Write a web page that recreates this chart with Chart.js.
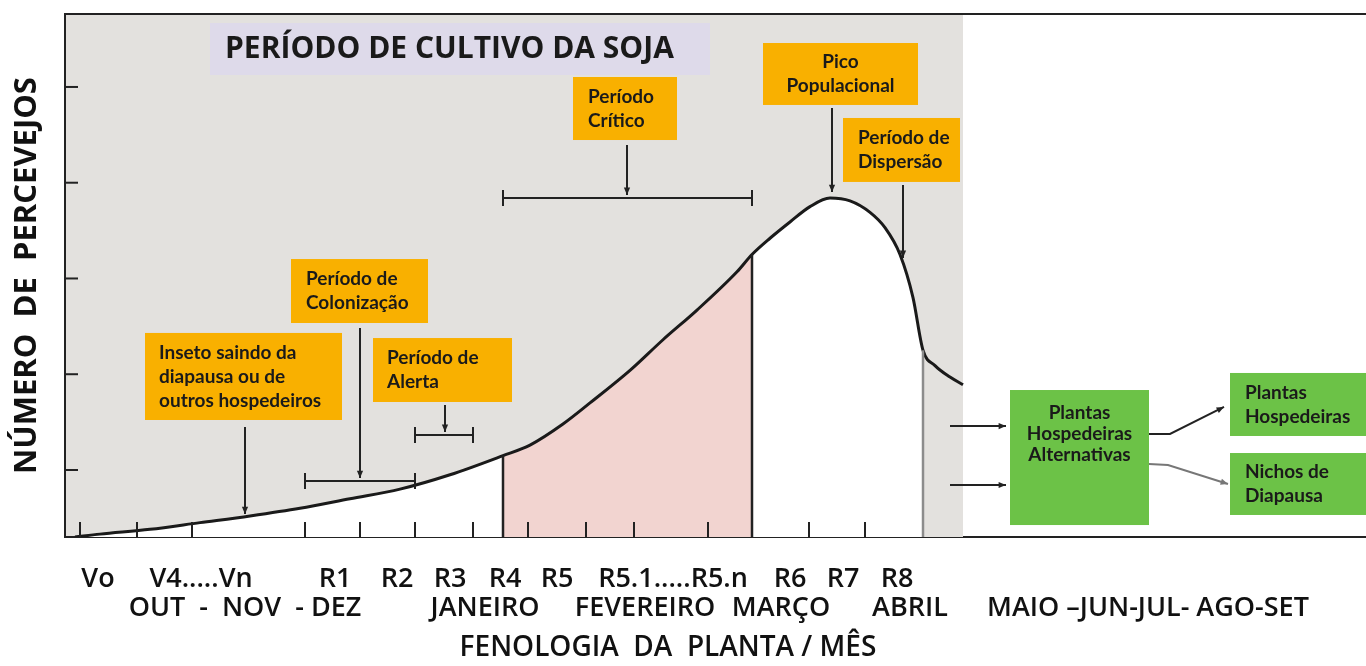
<!DOCTYPE html>
<html lang="pt">
<head>
<meta charset="UTF-8">
<title>Percevejos na soja</title>
<script src="https://cdn.jsdelivr.net/npm/chart.js"></script>
<style>
  html, body { margin: 0; padding: 0; background: #fff; }
  #wrap { width: 1366px; height: 666px; }
</style>
</head>
<body>
<div id="wrap"><canvas id="chart" width="1366" height="666"></canvas></div>
<script>
// population curve (x: time units along the season, y: relative number of bugs)
const curveX = [1.0, 3.5, 8.5, 13.5, 18.5, 23.5, 28.5, 33.5, 38.5, 43.8, 46.5, 49.8, 52.5, 56.5, 59.8, 63.2, 67.2, 68.7, 70.5, 72.5, 74.5, 76.5, 78.5, 80.5, 82.0, 83.5, 84.8, 85.8, 87.0, 88.5, 89.8];
const curveY = [0.30, 0.33, 0.38, 0.45, 0.52, 0.60, 0.70, 0.80, 0.95, 1.15, 1.26, 1.48, 1.70, 2.04, 2.36, 2.67, 3.07, 3.25, 3.42, 3.59, 3.75, 3.84, 3.81, 3.69, 3.53, 3.25, 2.80, 2.25, 2.09, 1.97, 1.89];

// phenology stages and months under the axis
const stageLabels = ['Vo', 'V4.....Vn', 'R1', 'R2', 'R3', 'R4', 'R5', 'R5.1.....R5.n', 'R6', 'R7', 'R8'];
const stagePos = [3.3, 13.6, 27.0, 33.2, 38.5, 44.0, 49.2, 60.8, 72.5, 77.8, 83.2];
const monthLabels = ['OUT  -  NOV  - DEZ', 'JANEIRO', 'FEVEREIRO', 'MARÇO', 'ABRIL', 'MAIO –JUN-JUL- AGO-SET'];
const monthPos = [18.0, 42.0, 58.0, 71.6, 84.5, 108.3];

// small tick marks inside the frame
const xTickPos = [1.5, 7.2, 12.7, 24.0, 29.5, 35.0, 40.8, 46.3, 52.1, 56.9, 64.3, 74.4, 80.0];
const yTickVals = [1, 2, 3, 4, 5];

// season limits
const criticalStart = 43.8;   // R4
const criticalEnd = 68.7;     // R6
const harvest = 85.8;         // R8
const seasonEnd = 89.8;

const ORANGE = '#f9b000';
const GREEN = '#6cc247';

// annotation boxes (data units)
const boxes = [
  { x1: 14.5, x2: 64.5, y1: 5.668, y2: 5.125, fill: '#dedaea', lines: ['PERÍODO DE CULTIVO DA SOJA'], font: 'bold 30px "Open Sans"', align: 'left', pad: 15 },
  { x1: 50.8, x2: 61.2, y1: 5.104, y2: 4.446, fill: ORANGE, lines: ['Período', 'Crítico'], align: 'left', pad: 15 },
  { x1: 69.8, x2: 85.3, y1: 5.459, y2: 4.812, fill: ORANGE, lines: ['Pico', 'Populacional'], align: 'center' },
  { x1: 77.8, x2: 89.5, y1: 4.676, y2: 4.008, fill: ORANGE, lines: ['Período de', 'Dispersão'], align: 'left', pad: 15 },
  { x1: 22.6, x2: 36.3, y1: 3.203, y2: 2.535, fill: ORANGE, lines: ['Período de', 'Colonização'], align: 'left', pad: 15 },
  { x1: 30.8, x2: 44.7, y1: 2.378, y2: 1.710, fill: ORANGE, lines: ['Período de', 'Alerta'], align: 'left', pad: 14 },
  { x1: 8.0, x2: 27.7, y1: 2.431, y2: 1.522, fill: ORANGE, lines: ['Inseto saindo da', 'diapausa ou de', 'outros hospedeiros'], align: 'left', pad: 14 },
  { x1: 94.5, x2: 108.4, y1: 1.835, y2: 0.425, fill: GREEN, lines: ['Plantas', 'Hospedeiras', 'Alternativas'], align: 'center', top: true, lh: 21 },
  { x1: 116.5, x2: 130.1, y1: 2.013, y2: 1.355, fill: GREEN, lines: ['Plantas', 'Hospedeiras'], align: 'left', pad: 15 },
  { x1: 116.5, x2: 130.1, y1: 1.177, y2: 0.530, fill: GREEN, lines: ['Nichos de', 'Diapausa'], align: 'left', pad: 15 }
];

const arrows = [
  { pts: [[56.2, 4.394], [56.2, 3.872]] },
  { pts: [[76.7, 4.780], [76.7, 3.903]] },
  { pts: [[83.8, 3.976], [83.8, 3.214]] },
  { pts: [[29.5, 2.483], [29.5, 0.916]] },
  { pts: [[38.0, 1.679], [38.0, 1.397]] },
  { pts: [[18.0, 1.449], [18.0, 0.540]] },
  { pts: [[88.5, 1.459], [94.1, 1.459]] },
  { pts: [[88.5, 0.843], [94.1, 0.843]] },
  { pts: [[108.4, 1.376], [110.5, 1.376], [115.9, 1.658]] },
  { pts: [[108.4, 1.062], [110.3, 1.052], [116.3, 0.854]], color: '#777' }
];

const brackets = [
  { x1: criticalStart, x2: criticalEnd, y: 3.840 },
  { x1: 24.0, x2: 35.0, y: 0.885 },
  { x1: 35.0, x2: 40.8, y: 1.365 }
];

const dividers = [
  { x: criticalStart, color: '#222' },
  { x: criticalEnd, color: '#222' },
  { x: harvest, color: '#8c8c8c' }
];

function drawArrow(ctx, pts, color) {
  ctx.strokeStyle = color;
  ctx.fillStyle = color;
  ctx.lineWidth = 2;
  ctx.beginPath();
  ctx.moveTo(pts[0][0], pts[0][1]);
  for (let i = 1; i < pts.length; i++) ctx.lineTo(pts[i][0], pts[i][1]);
  ctx.stroke();
  const [ax, ay] = pts[pts.length - 2];
  const [bx, by] = pts[pts.length - 1];
  const ang = Math.atan2(by - ay, bx - ax);
  const s = 8;
  ctx.beginPath();
  ctx.moveTo(bx, by);
  ctx.lineTo(bx - s * Math.cos(ang - 0.4), by - s * Math.sin(ang - 0.4));
  ctx.lineTo(bx - s * Math.cos(ang + 0.4), by - s * Math.sin(ang + 0.4));
  ctx.closePath();
  ctx.fill();
}

const decor = {
  id: 'decor',
  beforeDraw(chart) {
    const { ctx, chartArea: a, scales: { x } } = chart;
    ctx.save();
    ctx.fillStyle = '#e3e1de';
    ctx.fillRect(a.left, a.top, x.getPixelForValue(seasonEnd) - a.left, a.bottom - a.top);
    ctx.restore();
  },
  afterDatasetsDraw(chart) {
    const { ctx, chartArea: a, scales: { x, y } } = chart;
    const meta = chart.getDatasetMeta(0);
    ctx.save();

    // dividers from the curve down to the axis
    ctx.lineWidth = 2.5;
    dividers.forEach(d => {
      const pt = meta.data[curveX.indexOf(d.x)];
      ctx.strokeStyle = d.color;
      ctx.beginPath();
      ctx.moveTo(pt.x, pt.y);
      ctx.lineTo(pt.x, a.bottom);
      ctx.stroke();
    });

    // inner ticks
    ctx.strokeStyle = '#222';
    ctx.lineWidth = 2;
    xTickPos.forEach(v => {
      const px = x.getPixelForValue(v);
      ctx.beginPath();
      ctx.moveTo(px, a.bottom);
      ctx.lineTo(px, a.bottom - 15);
      ctx.stroke();
    });
    yTickVals.forEach(v => {
      const py = y.getPixelForValue(v);
      ctx.beginPath();
      ctx.moveTo(a.left, py);
      ctx.lineTo(a.left + 13, py);
      ctx.stroke();
    });

    // top frame line
    ctx.beginPath();
    ctx.moveTo(a.left - 1, a.top);
    ctx.lineTo(a.right, a.top);
    ctx.stroke();

    // brackets
    brackets.forEach(b => {
      const x1 = x.getPixelForValue(b.x1), x2 = x.getPixelForValue(b.x2), py = y.getPixelForValue(b.y);
      ctx.beginPath();
      ctx.moveTo(x1, py); ctx.lineTo(x2, py);
      ctx.moveTo(x1, py - 8); ctx.lineTo(x1, py + 8);
      ctx.moveTo(x2, py - 8); ctx.lineTo(x2, py + 8);
      ctx.stroke();
    });

    // arrows
    arrows.forEach(ar => {
      const pts = ar.pts.map(p => [x.getPixelForValue(p[0]), y.getPixelForValue(p[1])]);
      drawArrow(ctx, pts, ar.color || '#222');
    });

    // boxes
    boxes.forEach(b => {
      const x1 = x.getPixelForValue(b.x1), x2 = x.getPixelForValue(b.x2);
      const y1 = y.getPixelForValue(b.y1), y2 = y.getPixelForValue(b.y2);
      ctx.fillStyle = b.fill;
      ctx.fillRect(x1, y1, x2 - x1, y2 - y1);
      ctx.fillStyle = '#1a1a1a';
      ctx.font = b.font || 'bold 19px Lato';
      ctx.textBaseline = 'middle';
      ctx.textAlign = b.align;
      const lh = b.lh || 24;
      const n = b.lines.length;
      let cy = b.top ? y1 + lh + 2 : (y1 + y2) / 2 - (n - 1) * lh / 2;
      const tx = b.align === 'center' ? (x1 + x2) / 2 : x1 + b.pad;
      b.lines.forEach((t, i) => ctx.fillText(t, tx, cy + i * lh));
    });

    ctx.restore();
  },
  afterDraw(chart) {
    const { ctx, scales: { x } } = chart;
    ctx.save();
    ctx.fillStyle = '#111';
    ctx.font = '600 28px "Open Sans"';
    ctx.textAlign = 'center';
    ctx.textBaseline = 'middle';
    ctx.fillText('FENOLOGIA  DA  PLANTA / MÊS', x.getPixelForValue(60.3), chart.height - 18);
    ctx.restore();
  }
};

const axisFont = { family: 'Open Sans', size: 27, weight: '600' };

new Chart(document.getElementById('chart'), {
  type: 'line',
  data: {
    datasets: [{
      data: curveX.map((v, i) => ({ x: v, y: curveY[i] })),
      borderColor: '#1a1a1a',
      borderWidth: 3,
      pointRadius: 0,
      cubicInterpolationMode: 'monotone',
      fill: 'start',
      backgroundColor: (c) => {
        const chart = c.chart;
        const a = chart.chartArea;
        if (!a) return '#fff';
        const xs = chart.scales.x;
        const f = v => (xs.getPixelForValue(v) - a.left) / (a.right - a.left);
        const g = chart.ctx.createLinearGradient(a.left, 0, a.right, 0);
        g.addColorStop(0, '#ffffff');
        g.addColorStop(f(criticalStart), '#ffffff');
        g.addColorStop(f(criticalStart), '#f2d4d0');
        g.addColorStop(f(criticalEnd), '#f2d4d0');
        g.addColorStop(f(criticalEnd), '#ffffff');
        g.addColorStop(f(harvest), '#ffffff');
        g.addColorStop(f(harvest), '#e3e1de');
        g.addColorStop(1, '#e3e1de');
        return g;
      }
    }]
  },
  options: {
    responsive: false,
    animation: false,
    layout: { padding: { top: 14, bottom: 35, left: 0, right: 0 } },
    plugins: { legend: { display: false }, tooltip: { enabled: false } },
    scales: {
      x: {
        type: 'linear', position: 'bottom', min: 0, max: 130.1, weight: 0,
        grid: { display: false },
        border: { display: true, color: '#222', width: 2 },
        afterBuildTicks: s => { s.ticks = stagePos.map(v => ({ value: v })); },
        afterFit: s => { s.height = 58; },
        ticks: { autoSkip: false, maxRotation: 0, padding: 18, color: '#111', font: axisFont,
                 callback: (v, i) => stageLabels[i] }
      },
      xMonth: {
        type: 'linear', position: 'bottom', min: 0, max: 130.1, weight: 1,
        grid: { display: false },
        border: { display: false },
        afterBuildTicks: s => { s.ticks = monthPos.map(v => ({ value: v })); },
        afterFit: s => { s.height = 36; },
        ticks: { autoSkip: false, maxRotation: 0, padding: -11, color: '#111', font: axisFont,
                 callback: (v, i) => monthLabels[i] }
      },
      y: {
        min: 0.3, max: 5.762,
        grid: { display: false },
        border: { display: true, color: '#222', width: 2 },
        afterBuildTicks: s => { s.ticks = yTickVals.map(v => ({ value: v })); },
        afterFit: s => { s.width = 65; },
        ticks: { display: false },
        title: { display: true, text: 'NÚMERO  DE  PERCEVEJOS', color: '#111',
                 font: { family: 'Open Sans', size: 31, weight: 'bold' }, padding: { top: 9 } }
      }
    }
  },
  plugins: [decor]
});
</script>
</body>
</html>
